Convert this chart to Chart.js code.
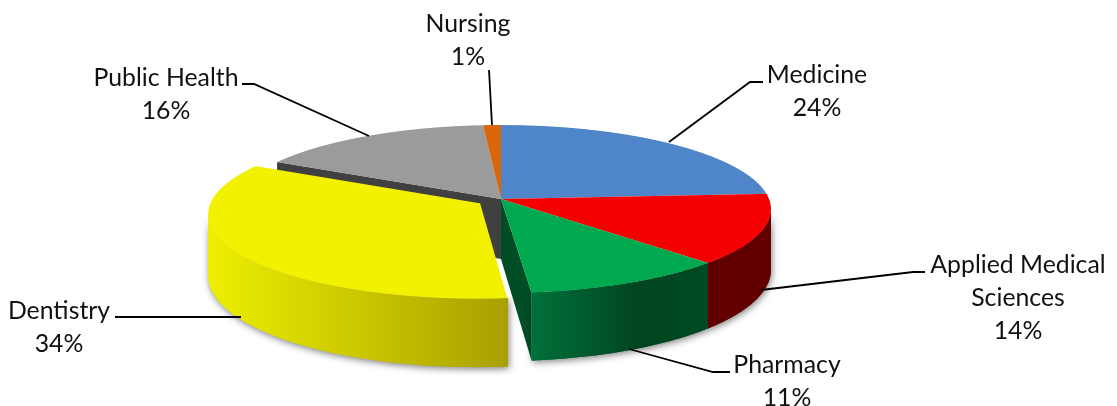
<!DOCTYPE html>
<html>
<head>
<meta charset="utf-8">
<title>Pie</title>
<script src="https://cdn.jsdelivr.net/npm/chart.js@4"></script>
<style>
html, body { margin: 0; background: #fff; }
canvas { display: block; }
</style>
</head>
<body>
<canvas id="chart-pie" width="1117" height="406"></canvas>
<script>
// values, the labels round them to whole percents
const categories = ['Medicine', ['Applied Medical', 'Sciences'], 'Pharmacy', 'Dentistry', 'Public Health', 'Nursing'];
const shares = [24.0, 13.5, 10.9, 34.4, 16.0, 1.2];
const explode = [0, 0, 0, 100, 0, 0];

const topColors = ['#4f86c9', '#f50000', '#00a94f', '#f2f200', '#9b9b9b', '#d9660a'];
const wallStops = [
    null,
    [[0, '#620000'], [1, '#620000']],
    [[0, '#00703a'], [0.6, '#004520'], [1, '#004a24']],
    [[0, '#eeee00'], [1, '#a8a000']],
    null,
    null,
];

// label centre x, first baseline, line height, then the leader polyline
const labelLayout = [
    { x: 817, y: 83, lh: 33, leader: [[669, 142], [750, 82], [763, 82]] },
    { x: 1018, y: 273, lh: 33, leader: [[761, 290], [913, 272], [925, 272]] },
    { x: 787, y: 373, lh: 33, leader: [[629, 349], [713, 372], [730, 372]] },
    { x: 59, y: 319, lh: 33, leader: [[115, 317], [241, 317]] },
    { x: 166, y: 86, lh: 33, leader: [[242, 84], [254, 84], [369, 136]] },
    { x: 468, y: 32, lh: 33, leader: [[489, 70], [492, 125]] },
];

// perspective of the pie plane
const CX = 501, CY = 199, R = 268, A = 82.8, C = -0.119, DEPTH = 60;
const TOP_ROW = 118, BOTTOM_ROW = 305;

function project(u, v) {
    const s = 1 / (1 + C * v);
    return { x: CX + u * R * s, y: CY + A * v * s, d: DEPTH * s };
}

function sliceOrigin(arc) {
    const off = (arc.options.offset || 0) / 4 / R;
    const mid = (arc.startAngle + arc.endAngle) / 2;
    return [Math.cos(mid) * off, Math.sin(mid) * off];
}

function tracePoly(ctx, top, bottom) {
    ctx.beginPath();
    top.forEach((p, i) => i ? ctx.lineTo(p.x, p.y) : ctx.moveTo(p.x, p.y));
    bottom.forEach(p => ctx.lineTo(p.x, p.y + p.d));
    ctx.closePath();
}

// outer wall of a slice, cut at the left and right silhouette of the rim
function traceWall(ctx, arc) {
    const [ou, ov] = sliceOrigin(arc);
    const a0 = Math.max(arc.startAngle, -0.3);
    const a1 = Math.min(arc.endAngle, Math.PI + 0.3);
    let pts = [];
    for (let i = 0; i <= 80; i++) {
        const a = a0 + (a1 - a0) * i / 80;
        pts.push(project(ou + Math.cos(a), ov + Math.sin(a)));
    }
    const xs = pts.map(p => p.x);
    pts = pts.slice(xs.indexOf(Math.max(...xs)), xs.indexOf(Math.min(...xs)) + 1);
    tracePoly(ctx, pts, pts.slice().reverse());
    return pts;
}

function wallFill(ctx, arc, stops) {
    const pts = traceWall(ctx, arc);
    const xs = pts.map(p => p.x);
    const g = ctx.createLinearGradient(Math.min(...xs), 0, Math.max(...xs), 0);
    stops.forEach(s => g.addColorStop(s[0], s[1]));
    ctx.fillStyle = g;
    ctx.fill();
}

// flat cut face along one edge of a slice
function fillFace(ctx, angle, color) {
    const apex = project(0, 0);
    const rim = project(Math.cos(angle), Math.sin(angle));
    tracePoly(ctx, [apex, rim], [rim, apex]);
    ctx.fillStyle = color;
    ctx.fill();
}

const pie3d = {
    id: 'pie3d',
    beforeDatasetDraw(chart, args) {
        const ctx = chart.ctx;
        const arcs = args.meta.data;
        const base = ctx.getTransform();

        // inner faces
        fillFace(ctx, arcs[4].startAngle, '#404040');
        fillFace(ctx, arcs[2].endAngle, '#004d26');

        // walls: once with the soft shadow, once clean on top
        ctx.save();
        ctx.shadowColor = 'rgba(0, 0, 0, 0.5)';
        ctx.shadowBlur = 7;
        ctx.shadowOffsetX = 1;
        ctx.shadowOffsetY = 2;
        arcs.forEach((arc, i) => { if (wallStops[i]) wallFill(ctx, arc, wallStops[i]); });
        ctx.restore();
        arcs.forEach((arc, i) => { if (wallStops[i]) wallFill(ctx, arc, wallStops[i]); });

        // the arc grows a little when offset, keep every slice on the same radius
        arcs.forEach(arc => {
            const fix = 1 - Math.sin(Math.min(Math.PI, arc.circumference));
            arc.outerRadius = R - (arc.options.offset || 0) / 4 * fix;
        });

        // top faces: the library's arcs, mapped row by row through the perspective
        for (let y = TOP_ROW; y < BOTTOM_ROW; y++) {
            const t = y + 0.5 - CY;
            const v = t / (A - C * t);
            const s = 1 / (1 + C * v);
            const sy = A * s * s / R;
            ctx.save();
            ctx.beginPath();
            ctx.rect(0, y, chart.width, 1);
            ctx.clip();
            ctx.setTransform(s, 0, 0, sy, CX - arcs[0].x * s, y + 0.5 - (arcs[0].y + v * R) * sy);
            arcs.forEach(arc => arc.draw(ctx));
            ctx.restore();
        }
        ctx.setTransform(base);
        return false;
    },
    afterDraw(chart) {
        const ctx = chart.ctx;
        ctx.save();
        ctx.strokeStyle = '#000';
        ctx.lineWidth = 1.8;
        labelLayout.forEach(l => {
            ctx.beginPath();
            l.leader.forEach((p, i) => i ? ctx.lineTo(p[0], p[1]) : ctx.moveTo(p[0], p[1]));
            ctx.stroke();
        });
        ctx.fillStyle = '#111';
        ctx.font = "24.8px Lato, 'Open Sans', sans-serif";
        ctx.textAlign = 'center';
        categories.forEach((name, i) => {
            const lines = [].concat(name, Math.round(shares[i]) + '%');
            lines.forEach((txt, j) => ctx.fillText(txt, labelLayout[i].x, labelLayout[i].y + j * labelLayout[i].lh));
        });
        ctx.restore();
    },
};

new Chart(document.getElementById('chart-pie'), {
    type: 'pie',
    data: {
        labels: categories,
        datasets: [{
            data: shares,
            backgroundColor: topColors,
            borderWidth: 0,
            offset: explode,
            radius: R,
        }],
    },
    options: {
        responsive: false,
        animation: false,
        radius: R,
        plugins: {
            legend: { display: false },
            tooltip: { enabled: false },
        },
    },
    plugins: [pie3d],
});
</script>
</body>
</html>
